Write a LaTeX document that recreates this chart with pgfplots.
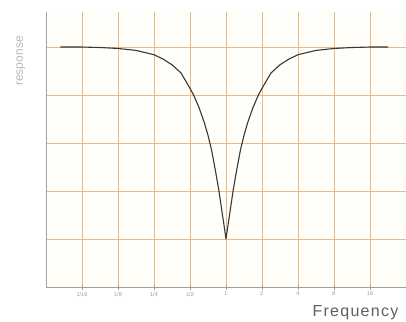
\documentclass[border=0pt]{standalone}
\usepackage{fontspec}
\setmainfont{Liberation Sans}
\usepackage{pgfplots}
\pgfplotsset{compat=1.18}
\definecolor{gridor}{RGB}{238,184,128}
\definecolor{curvec}{RGB}{55,55,55}
\definecolor{axisc}{RGB}{165,160,150}
\begin{document}
\begin{tikzpicture}[x=1pt,y=1pt]
\useasboundingbox (0,0) rectangle (406,321);
\fill[white] (0,0) rectangle (406,321);
\begin{axis}[
  at={(46pt,34pt)}, anchor=south west,
  scale only axis, width=360pt, height=275pt,
  xmin=-5, xmax=5, ymin=0, ymax=5.73,
  axis x line*=bottom, axis y line*=left,
  axis line style={-, draw=axisc, line width=0.8pt},
  axis background/.style={fill={rgb,255:red,255;green,254;blue,249}},
  xtick={-4,-3,-2,-1,0,1,2,3,4},
  xticklabels={1/16,1/8,1/4,1/2,1,2,4,8,16},
  ytick={1,2,3,4,5}, yticklabels={},
  major y tick style={draw=none},
  major x tick style={draw=axisc, line width=0.6pt},
  tick align=center, major tick length=5pt,
  xticklabel style={font=\fontsize{5.5}{6}\selectfont, text=gray!80, yshift=1pt},
  /pgf/number format/assume math mode=true,
  xmajorgrids, ymajorgrids,
  major grid style={draw=gridor, line width=0.9pt},
  clip=false,
]
\addplot[curvec, line width=1.1pt, line join=round] coordinates {
(-4.6,5.0) (-4,5.0) (-3.5,4.99) (-3,4.97) (-2.5,4.93) (-2,4.84) (-1.75,4.75)
(-1.5,4.63) (-1.25,4.46) (-1,4.14) (-0.9,4.0) (-0.75,3.74) (-0.6,3.42)
(-0.5,3.16) (-0.4,2.85) (-0.3,2.45) (-0.2,2.02) (-0.1,1.51) (-0.05,1.26) (0,1.0)
(0.05,1.26) (0.1,1.51) (0.2,2.02) (0.3,2.45) (0.4,2.85) (0.5,3.16) (0.6,3.42)
(0.75,3.74) (0.9,4.0) (1,4.14) (1.25,4.46) (1.5,4.63) (1.75,4.75) (2,4.84)
(2.5,4.93) (3,4.97) (3.5,4.99) (4,5.0) (4.5,5.0)
};
\end{axis}
\node[rotate=90, font=\fontsize{12}{14}\selectfont, text=gray!55] at (21,260) {response};
\node[anchor=base west, font=\fontsize{16}{18}\selectfont\addfontfeature{LetterSpace=8}, text=gray!75!black] at (309,5) {Frequency};
\end{tikzpicture}
\end{document}
